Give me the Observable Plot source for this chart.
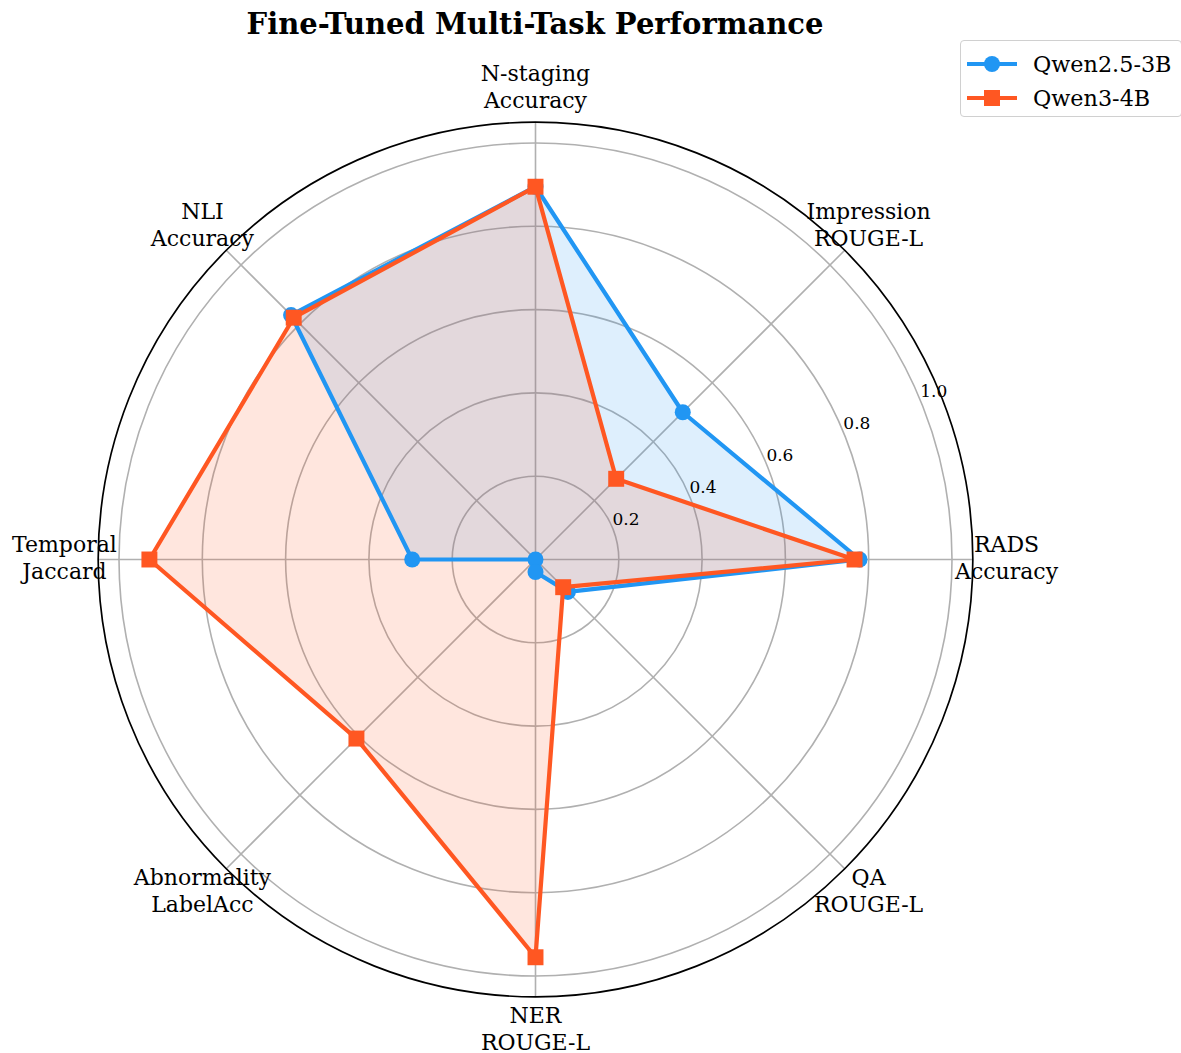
<!DOCTYPE html>
<html>
<head>
<meta charset="utf-8">
<script src="https://cdn.jsdelivr.net/npm/d3@7"></script>
<script src="https://cdn.jsdelivr.net/npm/@observablehq/plot@0.6"></script>
<style>
  body { margin: 0; background: #fff; font-family: "DejaVu Serif", serif; }
  #wrap { position: relative; width: 1181px; height: 1053px; overflow: hidden; }
  #title { position: absolute; left: 0; top: 0; width: 1070px; height: 50px; line-height: 48px;
           text-align: center; font-weight: bold; font-size: 29px; color: #000; }
  #chart { position: absolute; left: 0; top: 50px; }
  #legend { position: absolute; left: 960px; top: 40px; width: 222px; height: 77px;
            border: 1px solid #d0d0d0; border-radius: 4px; background: rgba(255,255,255,0.8); box-sizing: border-box; }
  .item { position: absolute; left: 0; height: 34px; width: 222px; }
  .item svg { position: absolute; left: 4px; top: 0; }
  .item span { position: absolute; left: 72px; top: 0; line-height: 34px; font-size: 22.3px; color: #000; white-space: nowrap; }
</style>
</head>
<body>
<div id="wrap">
  <div id="title">Fine-Tuned Multi-Task Performance</div>
  <div id="chart"></div>
  <div id="legend"></div>
</div>
<script>
// ---- Data ----
const categories = [
  "RADS\nAccuracy",
  "Impression\nROUGE-L",
  "N-staging\nAccuracy",
  "NLI\nAccuracy",
  "Temporal\nJaccard",
  "Abnormality\nLabelAcc",
  "NER\nROUGE-L",
  "QA\nROUGE-L"
];
const seriesNames = ["Qwen2.5-3B", "Qwen3-4B"];
const qwen25Values = [0.778, 0.500, 0.895, 0.830, 0.296, 0.000, 0.030, 0.110];
const qwen3Values  = [0.766, 0.274, 0.895, 0.821, 0.927, 0.608, 0.955, 0.094];
const rTicks = [0.2, 0.4, 0.6, 0.8, 1.0];
const rTickLabels = ["0.2", "0.4", "0.6", "0.8", "1.0"];
const colors = ["#2196F3", "#FF5722"];
const symbols = ["circle", "square"];

// ---- Layout ----
const rMax = 1.05;
const S = 416.5;           // px per unit radius
const cx = 535, cy = 559 - 50;
const W = 1181, H = 1003;
const n = categories.length;
const ang = i => i * 2 * Math.PI / n;
const labelR = 1.131;
const tickAngle = 22.5 * Math.PI / 180;

const series = [qwen25Values, qwen3Values].map((vals, s) =>
  vals.map((v, i) => ({series: seriesNames[s], i, value: v,
    x: v * Math.cos(ang(i)), y: v * Math.sin(ang(i))}))
);
const spokes = categories.map((c, i) => ({x: rMax * Math.cos(ang(i)), y: rMax * Math.sin(ang(i))}));

const marks = [
  // grid circles
  Plot.dot(rTicks, {x: () => 0, y: () => 0, r: d => d, fill: "none", stroke: "#b0b0b0", strokeWidth: 1.6}),
  // spokes
  Plot.link(spokes, {x1: () => 0, y1: () => 0, x2: "x", y2: "y", stroke: "#b0b0b0", strokeWidth: 1.6}),
];
// fills first
series.forEach((data, s) => {
  marks.push(Plot.line(data, {x: "x", y: "y", curve: "linear-closed", fill: colors[s], fillOpacity: 0.15, stroke: "none"}));
});
series.forEach((data, s) => {
  marks.push(
    Plot.line(data, {x: "x", y: "y", curve: "linear-closed", stroke: colors[s], strokeWidth: 4.2}),
    Plot.dot(data, {x: "x", y: "y", symbol: () => symbols[s], fill: colors[s], stroke: "none", r: s === 0 ? 8 : 9})
  );
});
marks.push(
  // outer frame
  Plot.dot([rMax], {x: () => 0, y: () => 0, r: d => d, fill: "none", stroke: "#000", strokeWidth: 1.7}),
  // radial tick labels
  Plot.text(rTicks, {x: d => d * Math.cos(tickAngle), y: d => d * Math.sin(tickAngle),
    text: (d, i) => rTickLabels[i], textAnchor: "start", lineAnchor: "bottom", dy: -3, fontSize: 17, fill: "#000"}),
  // category labels
  Plot.text(categories, {x: (d, i) => labelR * Math.cos(ang(i)), y: (d, i) => labelR * Math.sin(ang(i)),
    text: d => d, textAnchor: "middle", lineAnchor: "middle", dy: -3, fontSize: 22, lineHeight: 1.23, fill: "#000"})
);

const chart = Plot.plot({
  width: W, height: H,
  marginLeft: cx - rMax * S, marginRight: W - cx - rMax * S,
  marginTop: cy - rMax * S, marginBottom: H - cy - rMax * S,
  x: {domain: [-rMax, rMax], axis: null},
  y: {domain: [-rMax, rMax], axis: null},
  r: {type: "linear", domain: [0, rMax], range: [0, rMax * S]},
  style: {fontFamily: "DejaVu Serif", background: "#fff", overflow: "visible"},
  marks
});
document.getElementById("chart").appendChild(chart);

// ---- Legend ----
const legend = document.getElementById("legend");
seriesNames.forEach((name, s) => {
  const item = document.createElement("div");
  item.className = "item";
  item.style.top = (6 + s * 34) + "px";
  const shape = symbols[s] === "circle"
    ? `<circle cx="27" cy="17" r="8" fill="${colors[s]}"/>`
    : `<rect x="19" y="9" width="16" height="16" fill="${colors[s]}"/>`;
  item.innerHTML = `<svg width="56" height="34"><line x1="2" y1="17" x2="52" y2="17" stroke="${colors[s]}" stroke-width="4.2"/>${shape}</svg><span>${name}</span>`;
  legend.appendChild(item);
});
</script>
</body>
</html>
